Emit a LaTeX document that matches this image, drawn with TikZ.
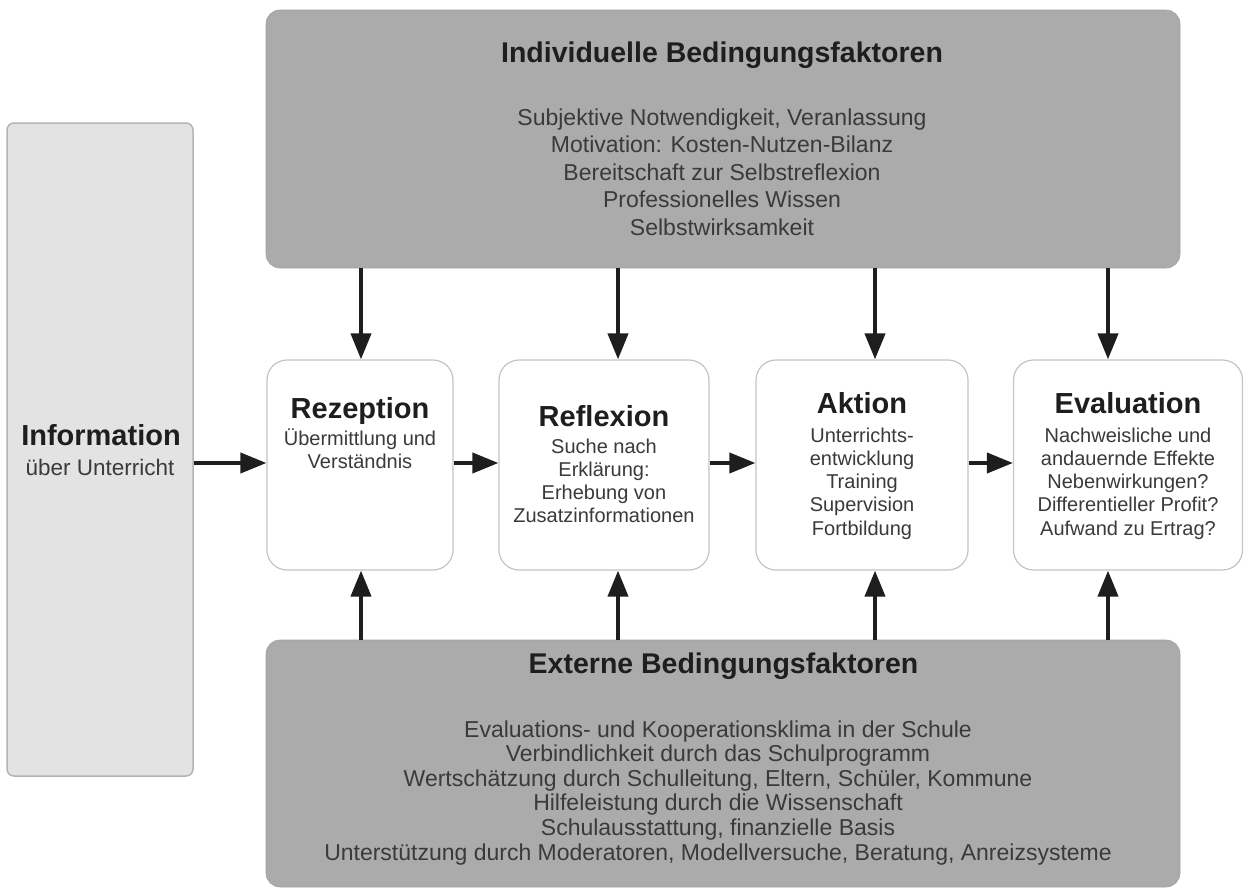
\documentclass[tikz,border=0pt]{standalone}
\usepackage{fontspec}
\setmainfont{Liberation Sans}
\usetikzlibrary{arrows.meta}
\definecolor{boxgray}{HTML}{ABABAB}
\definecolor{boxline}{HTML}{A0A0A0}
\definecolor{infogray}{HTML}{E3E3E3}
\definecolor{infoline}{HTML}{B4B4B4}
\definecolor{stageline}{HTML}{C4C4C4}
\definecolor{ink}{HTML}{1E1E1E}
\definecolor{bodyink}{HTML}{3A3A3A}
\begin{document}
\begin{tikzpicture}[x=1pt,y=-1pt,
 bigbox/.style={rectangle, rounded corners=14pt, fill=boxgray, draw=boxline, line width=0.6pt, inner sep=0pt},
 infobox/.style={rectangle, rounded corners=7pt, fill=infogray, draw=infoline, line width=1.5pt, inner sep=0pt},
 stagebox/.style={rectangle, rounded corners=20pt, fill=white, draw=stageline, line width=1.2pt, inner sep=0pt},
 ttl/.style={anchor=base, inner sep=0pt, text=ink, font=\fontsize{28.5}{30}\selectfont\bfseries},
 stagettl/.style={anchor=base, inner sep=0pt, text=ink, font=\fontsize{29}{30}\selectfont\bfseries},
 bigtxt/.style={anchor=base, inner sep=0pt, align=center, text=bodyink},
 stagetxt/.style={anchor=base, inner sep=0pt, align=center, text=bodyink, font=\fontsize{20}{23.3}\selectfont},
 arr/.style={draw=ink, line width=4pt, -{Triangle[width=20pt,length=26pt]}},
]
\useasboundingbox (0,0) rectangle (1244,889);

% boxes
\node[infobox, minimum width=186pt, minimum height=653pt] (info) at (100,449.5) {};
\node[bigbox, minimum width=914pt, minimum height=258pt] (top) at (723,139) {};
\node[bigbox, minimum width=914pt, minimum height=247pt] (bot) at (723,763.5) {};
\node[stagebox, minimum width=186pt, minimum height=210pt] (rez) at (360,465) {};
\node[stagebox, minimum width=210pt, minimum height=210pt] (refl) at (604,465) {};
\node[stagebox, minimum width=212pt, minimum height=210pt] (akt) at (862,465) {};
\node[stagebox, minimum width=229pt, minimum height=210pt] (eval) at (1128,465) {};

% texts (multi-line nodes are anchored at the baseline of their last line)
\node[ttl] (toptitle) at (722,62) {Individuelle Bedingungsfaktoren};
\node[bigtxt, font=\fontsize{23}{27.5}\selectfont] (toptext) at (722,235)
 {Subjektive Notwendigkeit, Veranlassung\\Motivation: Kosten-Nutzen-Bilanz\\Bereitschaft zur Selbstreflexion\\Professionelles Wissen\\Selbstwirksamkeit};
\node[ttl] (bottitle) at (723.5,673) {Externe Bedingungsfaktoren};
\node[bigtxt, font=\fontsize{23}{24.6}\selectfont] (bottext) at (718,860)
 {Evaluations- und Kooperationsklima in der Schule\\Verbindlichkeit durch das Schulprogramm\\Wertschätzung durch Schulleitung, Eltern, Schüler, Kommune\\Hilfeleistung durch die Wissenschaft\\Schulausstattung, finanzielle Basis\\Unterstützung durch Moderatoren, Modellversuche, Beratung, Anreizsysteme};

\node[stagettl] (infotitle) at (101,445) {Information};
\node[bigtxt, font=\fontsize{22.5}{24}\selectfont] (infotext) at (100,475) {über Unterricht};

\node[stagettl] (reztitle) at (360,418) {Rezeption};
\node[stagetxt] (reztext) at (360,468.3) {Übermittlung und\\Verständnis};
\node[stagettl] (refltitle) at (604,426) {Reflexion};
\node[stagetxt] (refltext) at (604,522.9) {Suche nach\\Erklärung:\\Erhebung von\\Zusatzinformationen};
\node[stagettl] (akttitle) at (862,413) {Aktion};
\node[stagetxt] (akttext) at (862,535.2) {Unterrichts-\\entwicklung\\Training\\Supervision\\Fortbildung};
\node[stagettl] (evaltitle) at (1128,413) {Evaluation};
\node[stagetxt] (evaltext) at (1128,535.2) {Nachweisliche und\\andauernde Effekte\\Nebenwirkungen?\\Differentieller Profit?\\Aufwand zu Ertrag?};

% arrow anchor coordinates
\coordinate (ay) at (0,463);
\coordinate (c1) at ([xshift=1pt]rez.north);
\coordinate (c2) at ([xshift=14pt]refl.north);
\coordinate (c3) at ([xshift=13pt]akt.north);
\coordinate (c4) at ([xshift=-20pt]eval.north);

% horizontal arrows
\draw[arr] (info.east |- ay) -- (rez.west |- ay);
\draw[arr] (rez.east |- ay) -- (refl.west |- ay);
\draw[arr] (refl.east |- ay) -- (akt.west |- ay);
\draw[arr] (akt.east |- ay) -- (eval.west |- ay);

% vertical arrows from top
\draw[arr] (c1 |- top.south) -- (c1 |- rez.north);
\draw[arr] (c2 |- top.south) -- (c2 |- refl.north);
\draw[arr] (c3 |- top.south) -- (c3 |- akt.north);
\draw[arr] (c4 |- top.south) -- (c4 |- eval.north);

% vertical arrows from bottom
\draw[arr] (c1 |- bot.north) -- (c1 |- rez.south);
\draw[arr] (c2 |- bot.north) -- (c2 |- refl.south);
\draw[arr] (c3 |- bot.north) -- (c3 |- akt.south);
\draw[arr] (c4 |- bot.north) -- (c4 |- eval.south);
\end{tikzpicture}
\end{document}
